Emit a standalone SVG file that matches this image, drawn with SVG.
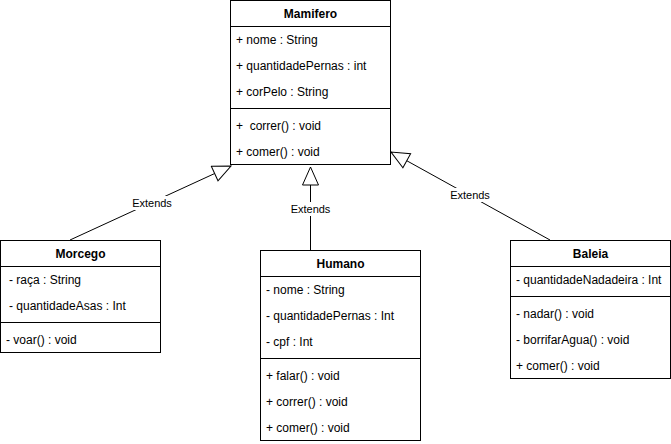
<svg xmlns="http://www.w3.org/2000/svg" width="671" height="444" viewBox="0 0 671 444">
<style>
.box{fill:#fff;stroke:#000;stroke-width:1}
.sep{stroke:#000;stroke-width:1;fill:none}
.t{font-family:"Liberation Sans",Arial,sans-serif;font-size:12px;fill:#000;dominant-baseline:central}
.h{font-weight:bold;text-anchor:middle}
.edge{stroke:#000;stroke-width:1;fill:none;marker-end:url(#tri)}
.lbl{font-family:"Liberation Sans",Arial,sans-serif;font-size:11px;fill:#000;text-anchor:middle;dominant-baseline:central}
.lblbg{fill:#fff}
</style>
<defs>
<marker id="tri" viewBox="0 0 20 18" refX="19" refY="9" markerWidth="20" markerHeight="18" markerUnits="userSpaceOnUse" orient="auto">
<path d="M1,1 L19,9 L1,17 Z" fill="#fff" stroke="#000" stroke-width="1"/>
</marker>
</defs>
<rect width="671" height="444" fill="#fff"/>
<g id="connectors">
<path class="edge" d="M70,240 L231,166"/>
<path class="edge" d="M310.5,250 L310.5,167"/>
<path class="edge" d="M550,240 L391,152"/>
<rect class="lblbg" x="131" y="196" width="42" height="14"/>
<text class="lbl" x="152" y="203">Extends</text>
<rect class="lblbg" x="289" y="202" width="42" height="14"/>
<text class="lbl" x="310.5" y="209">Extends</text>
<rect class="lblbg" x="449" y="188" width="42" height="14"/>
<text class="lbl" x="470" y="195">Extends</text>
</g>
<g id="Mamifero">
<rect class="box" x="230.5" y="0.5" width="160" height="164"/>
<line class="sep" x1="230.5" y1="26.5" x2="390.5" y2="26.5"/>
<line class="sep" x1="230.5" y1="108.5" x2="390.5" y2="108.5"/>
<text class="t h" x="310.5" y="14">Mamifero</text>
<text class="t" x="236" y="40">+ nome : String</text>
<text class="t" x="236" y="66">+ quantidadePernas : int</text>
<text class="t" x="236" y="92">+ corPelo : String</text>
<text class="t" x="236" y="126" xml:space="preserve">+  correr() : void</text>
<text class="t" x="236" y="152">+ comer() : void</text>
</g>
<g id="Morcego">
<rect class="box" x="0.5" y="240.5" width="160" height="112"/>
<line class="sep" x1="0.5" y1="266.5" x2="160.5" y2="266.5"/>
<line class="sep" x1="0.5" y1="322.5" x2="160.5" y2="322.5"/>
<text class="t h" x="80.5" y="254">Morcego</text>
<text class="t" x="9" y="280">- raça : String</text>
<text class="t" x="9" y="306">- quantidadeAsas : Int</text>
<text class="t" x="6" y="340">- voar() : void</text>
</g>
<g id="Humano">
<rect class="box" x="260.5" y="250.5" width="160" height="190"/>
<line class="sep" x1="260.5" y1="276.5" x2="420.5" y2="276.5"/>
<line class="sep" x1="260.5" y1="358.5" x2="420.5" y2="358.5"/>
<text class="t h" x="340.5" y="264">Humano</text>
<text class="t" x="266" y="290">- nome : String</text>
<text class="t" x="266" y="316">- quantidadePernas : Int</text>
<text class="t" x="266" y="342">- cpf : Int</text>
<text class="t" x="266" y="376">+ falar() : void</text>
<text class="t" x="266" y="402">+ correr() : void</text>
<text class="t" x="266" y="428">+ comer() : void</text>
</g>
<g id="Baleia">
<rect class="box" x="510.5" y="240.5" width="160" height="138"/>
<line class="sep" x1="510.5" y1="266.5" x2="670.5" y2="266.5"/>
<line class="sep" x1="510.5" y1="296.5" x2="670.5" y2="296.5"/>
<text class="t h" x="590.5" y="254">Baleia</text>
<text class="t" x="516" y="280">- quantidadeNadadeira : Int</text>
<text class="t" x="516" y="314">- nadar() : void</text>
<text class="t" x="516" y="340">- borrifarAgua() : void</text>
<text class="t" x="516" y="366">+ comer() : void</text>
</g>
</svg>
